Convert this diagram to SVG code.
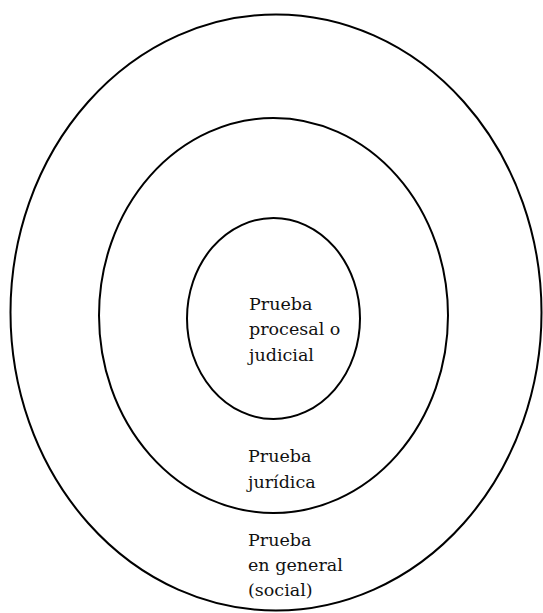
<svg xmlns="http://www.w3.org/2000/svg" width="543" height="613" viewBox="0 0 543 613">
<style>
.ring{fill:none;stroke:#000;stroke-width:2}
.lbl{font-family:"DejaVu Serif","Liberation Serif",serif;font-size:17.5px;fill:#111}
</style>
<rect width="543" height="613" fill="#fff"/>
<g id="outer">
<ellipse class="ring" cx="276" cy="312.5" rx="265.5" ry="298"/>
<text class="lbl" x="248" y="546">Prueba</text>
<text class="lbl" x="248" y="571">en general</text>
<text class="lbl" x="248" y="596">(social)</text>
</g>
<g id="middle">
<ellipse class="ring" cx="273.5" cy="315.5" rx="174.5" ry="197.5"/>
<text class="lbl" x="248" y="462">Prueba</text>
<text class="lbl" x="248" y="488">jurídica</text>
</g>
<g id="inner">
<ellipse class="ring" cx="273.5" cy="318.5" rx="86.5" ry="100.5"/>
<text class="lbl" x="249" y="310">Prueba</text>
<text class="lbl" x="249" y="335">procesal o</text>
<text class="lbl" x="249" y="361">judicial</text>
</g>
<g id="connectors"></g>
</svg>
